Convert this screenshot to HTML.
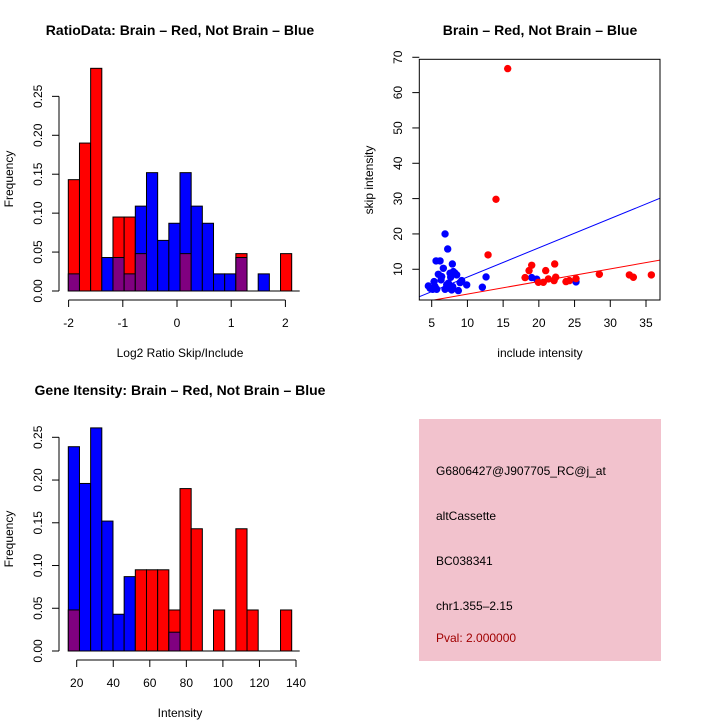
<!DOCTYPE html>
<html><head><meta charset="utf-8"><style>
body{margin:0;background:#fff}
svg{display:block;font-family:"Liberation Sans",sans-serif}
</style></head><body>
<svg id="s" width="720" height="720" viewBox="0 0 720 720">
<text x="180" y="35" text-anchor="middle" font-size="14" font-weight="bold">RatioData: Brain – Red, Not Brain – Blue</text>
<text x="540" y="35" text-anchor="middle" font-size="14" font-weight="bold">Brain – Red, Not Brain – Blue</text>
<text x="180" y="395" text-anchor="middle" font-size="14" font-weight="bold">Gene Itensity: Brain – Red, Not Brain – Blue</text>
<text x="180" y="357" text-anchor="middle" font-size="12">Log2 Ratio Skip/Include</text>
<text x="540" y="357" text-anchor="middle" font-size="12">include intensity</text>
<text x="180" y="717" text-anchor="middle" font-size="12">Intensity</text>
<text transform="translate(13,179) rotate(-90)" text-anchor="middle" font-size="12">Frequency</text>
<text transform="translate(13,539) rotate(-90)" text-anchor="middle" font-size="12">Frequency</text>
<text transform="translate(373,180) rotate(-90)" text-anchor="middle" font-size="12">skip intensity</text>
<g>
<rect x="419" y="419" width="242" height="242" fill="#f2c2cd"/>
<text x="436" y="475" font-size="12">G6806427@J907705_RC@j_at</text>
<text x="436" y="520" font-size="12">altCassette</text>
<text x="436" y="565" font-size="12">BC038341</text>
<text x="436" y="610" font-size="12">chr1.355–2.15</text>
<text x="436" y="642" font-size="12" fill="#a00000">Pval: 2.000000</text>
</g>
</svg>
<script>
// Ratio histogram data (20 bins from -2 to ~2.1)
const ratioRed  = [0.143,0.190,0.286,0,0.095,0.095,0.048,0,0,0,0.048,0,0,0,0,0.048,0,0,0,0.048];
const ratioBlue = [0.022,0,0,0.043,0.043,0.022,0.109,0.152,0.065,0.087,0.152,0.109,0.087,0.022,0.022,0.043,0,0.022,0,0];
const ratioXTicks = [-2,-1,0,1,2];
const ratioYTicks = ["0.00","0.05","0.10","0.15","0.20","0.25"];
// Intensity histogram data
const intRed  = [0.048,0,0,0,0,0,0.095,0.095,0.095,0.048,0.190,0.143,0,0.048,0,0.143,0.048,0,0,0.048];
const intBlue = [0.239,0.196,0.261,0.152,0.043,0.087,0,0,0,0.022,0,0,0,0,0,0,0,0,0,0];
const intXTicks = [20,40,60,80,100,120,140];
const intYTicks = ["0.00","0.05","0.10","0.15","0.20","0.25"];
// Scatter data
const blueX = [4.53,4.77,5.14,5.33,5.47,5.70,5.61,6.17,5.93,6.40,6.31,6.63,6.87,6.87,7.24,7.10,7.33,7.47,7.57,7.66,7.80,7.89,7.94,8.03,8.27,8.50,8.73,8.97,9.20,9.90,12.09,12.61,19.0,19.7,25.2];
const blueY = [5.28,4.62,4.34,6.51,5.09,4.34,12.36,12.36,8.58,7.92,6.98,10.28,20.0,4.34,15.75,5.57,6.04,4.62,8.87,7.74,4.15,11.5,5.09,9.34,8.87,8.40,3.96,6.23,6.79,5.57,4.91,7.83,7.64,7.17,6.42];
const redX = [15.64,14.0,12.89,18.07,18.63,19.0,19.93,20.63,20.96,21.33,22.13,22.22,22.36,23.8,24.27,25.2,28.47,32.67,33.23,35.75];
const redY = [66.8,29.8,14.06,7.64,9.62,11.13,6.32,6.32,9.62,7.26,6.79,11.5,7.74,6.51,6.79,7.36,8.58,8.40,7.74,8.40];
const blueFit = [-0.47,0.827];
const redFit = [-0.6,0.357];
const scXTicks = [5,10,15,20,25,30,35];
const scYTicks = [10,20,30,40,50,60,70];

const svg=document.getElementById('s');const NS='http://www.w3.org/2000/svg';
function mk(t,a,p){const e=document.createElementNS(NS,t);for(const k in a)e.setAttribute(k,a[k]);(p||svg).appendChild(e);return e;}

function hist(red,blue,y0,perUnit,x0,bw,axisY,xt,xScale,yt,label){
  const g=mk('g',{});
  
  
  const ys=v=>y0-v*perUnit;
  for(let i=0;i<red.length;i++){
    const r=red[i],b=blue[i];const x=x0+i*bw;
    const hi=Math.max(r,b),lo=Math.min(r,b);
    if(hi>0){const e=mk('rect',{x:x,y:ys(hi),width:bw,height:hi*perUnit,fill:r>=b?'#ff0000':'#0000ff',stroke:'#000','stroke-width':1},g);
      
      }
    if(lo>0){const e=mk('rect',{x:x,y:ys(lo),width:bw,height:lo*perUnit,fill:'#800080',stroke:'#000','stroke-width':1},g);
      
      }
  }
  mk('line',{x1:x0,x2:x0+bw*red.length+8,y1:y0,y2:y0,stroke:'#000'},g);
  const yTop=ys(parseFloat(yt[yt.length-1]));
  mk('line',{x1:59,x2:59,y1:y0,y2:yTop,stroke:'#000'},g);
  yt.forEach(t=>{const y=ys(parseFloat(t));mk('line',{x1:52,x2:59,y1:y,y2:y,stroke:'#000'},g);
    const tx=mk('text',{transform:`translate(42,${y}) rotate(-90)`,'text-anchor':'middle','font-size':12},g);tx.textContent=t;
    
    });
  const xs=xScale;
  mk('line',{x1:xs(xt[0]),x2:xs(xt[xt.length-1]),y1:axisY,y2:axisY,stroke:'#000'},g);
  xt.forEach(t=>{const x=xs(t);mk('line',{x1:x,x2:x,y1:axisY,y2:axisY+7,stroke:'#000'},g);
    const tx=mk('text',{x:x,y:axisY+27,'text-anchor':'middle','font-size':12},g);tx.textContent=t;
    
    });
}
hist(ratioRed,ratioBlue,291,778.6,68.3,11.17,300,ratioXTicks,v=>177+v*54.2,ratioYTicks,'ratio');
hist(intRed,intBlue,651,854.8,68.3,11.17,660,intXTicks,v=>76.7+(v-20)*1.8275,intYTicks,'intensity');

const L=419.3,R=660,T=59.3,B=300;
const sx=v=>431.7+(v-5)*7.143;
const sy=v=>300-(v-1.3)*3.533;
const sg=mk('g',{});


const cp=mk('clipPath',{id:'cp'},sg);mk('rect',{x:L,y:T,width:R-L,height:B-T},cp);
const lg=mk('g',{'clip-path':'url(#cp)'},sg);
const x1=3.27,x2=36.97;
[[blueFit,'#0000ff','blue-fit-line'],[redFit,'#ff0000','red-fit-line']].forEach(([f,c,n])=>{
  const e=mk('line',{x1:sx(x1),x2:sx(x2),y1:sy(f[0]+f[1]*x1),y2:sy(f[0]+f[1]*x2),stroke:c,'stroke-width':1},lg);
  
  });
blueX.forEach((x,i)=>{const e=mk('circle',{cx:sx(x),cy:sy(blueY[i]),r:3.7,fill:'#0000ff'},lg);
  
  });
redX.forEach((x,i)=>{const e=mk('circle',{cx:sx(x),cy:sy(redY[i]),r:3.7,fill:'#ff0000'},lg);
  
  });
mk('rect',{x:L,y:T,width:R-L,height:B-T,fill:'none',stroke:'#000'},sg);
scXTicks.forEach(t=>{const x=sx(t);mk('line',{x1:x,x2:x,y1:B,y2:B+7,stroke:'#000'},sg);
  const tx=mk('text',{x:x,y:B+27,'text-anchor':'middle','font-size':12},sg);tx.textContent=t;
  
  });
scYTicks.forEach(t=>{const y=sy(t);mk('line',{x1:L-7,x2:L,y1:y,y2:y,stroke:'#000'},sg);
  const tx=mk('text',{transform:`translate(402,${y}) rotate(-90)`,'text-anchor':'middle','font-size':12},sg);tx.textContent=t;
  
  });
</script>
</body></html>
